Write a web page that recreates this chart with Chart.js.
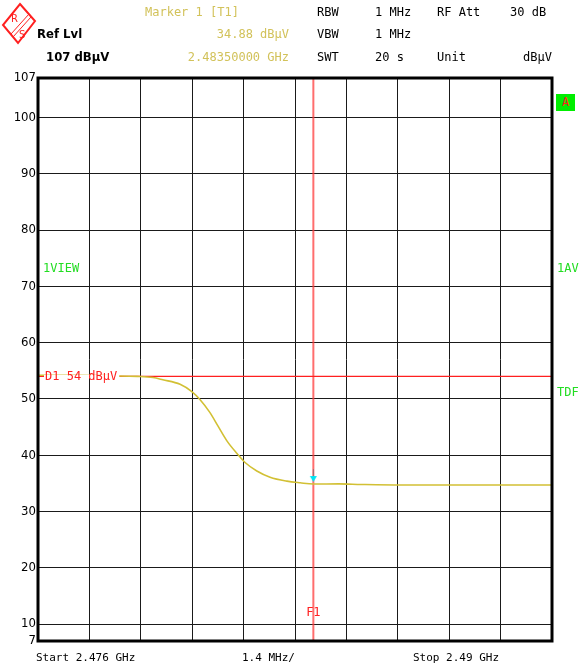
<!DOCTYPE html>
<html>
<head>
<meta charset="utf-8">
<script src="https://cdn.jsdelivr.net/npm/chart.js@4.4.1/dist/chart.umd.min.js"></script>
<style>
  html, body { margin: 0; padding: 0; background: #fff; }
  #wrap { position: relative; width: 579px; height: 670px; overflow: hidden; }
  #wrap canvas { position: absolute; left: 0; top: 0; }
  .t { position: absolute; font-family: "DejaVu Sans Mono", monospace; font-size: 12px; white-space: pre; line-height: 14px; }
  .k { color: #000; }
  .y { color: #d2c25a; }
  .g { color: #22dd22; }
  .b { font-weight: bold; font-family: "DejaVu Sans Condensed", "DejaVu Sans", sans-serif; font-size: 13px; }
  .r { text-align: right; }
  #abox { position: absolute; left: 556px; top: 94px; width: 19px; height: 17px; background: #00ee00; color: #ff2020; font-family: "DejaVu Sans Mono", monospace; font-size: 12px; text-align: center; line-height: 17px; }
</style>
</head>
<body>
<div id="wrap">
  <canvas id="analyzerChart" width="579" height="670"></canvas>

  <svg style="position:absolute;left:0;top:0" width="40" height="48">
    <polygon points="20,4 35,21 18,43 3,25" fill="none" stroke="#ff2020" stroke-width="2"/>
    <line x1="29" y1="14" x2="11" y2="34" stroke="#ff2020" stroke-width="1"/>
    <line x1="31" y1="17" x2="13" y2="37" stroke="#ff2020" stroke-width="1"/>
    <text x="11" y="22" font-size="10" fill="#ff2020" font-family="DejaVu Sans">R</text>
    <text x="19" y="38" font-size="10" fill="#ff2020" font-family="DejaVu Sans">S</text>
  </svg>

  <div class="t y" style="left:145px;top:5px">Marker 1 [T1]</div>
  <div class="t k b" style="left:37px;top:27px">Ref Lvl</div>
  <div class="t y r" style="left:150px;top:27px;width:139px">34.88 dBµV</div>
  <div class="t k b" style="left:46px;top:50px">107 dBµV</div>
  <div class="t y r" style="left:150px;top:50px;width:139px">2.48350000 GHz</div>

  <div class="t k" style="left:317px;top:5px">RBW</div>
  <div class="t k" style="left:375px;top:5px">1 MHz</div>
  <div class="t k" style="left:437px;top:5px">RF Att</div>
  <div class="t k" style="left:510px;top:5px">30 dB</div>
  <div class="t k" style="left:317px;top:27px">VBW</div>
  <div class="t k" style="left:375px;top:27px">1 MHz</div>
  <div class="t k" style="left:317px;top:50px">SWT</div>
  <div class="t k" style="left:375px;top:50px">20 s</div>
  <div class="t k" style="left:437px;top:50px">Unit</div>
  <div class="t k r" style="left:480px;top:50px;width:72px">dBµV</div>

  <div id="abox">A</div>
  <div class="t g" style="left:43px;top:261px">1VIEW</div>
  <div class="t g" style="left:557px;top:261px">1AV</div>
  <div class="t g" style="left:557px;top:385px">TDF</div>

  <div class="t k" style="left:36px;top:651px;font-size:11px">Start 2.476 GHz</div>
  <div class="t k" style="left:242px;top:651px;font-size:11px">1.4 MHz/</div>
  <div class="t k" style="left:413px;top:651px;font-size:11px">Stop 2.49 GHz</div>
</div>

<script>
// Sweep 2.476 - 2.49 GHz, frequency in MHz
const freqMHz = [2476.0, 2477.0, 2478.0, 2478.7, 2479.13, 2479.4, 2479.87, 2480.19, 2480.41, 2480.68,
                 2480.9, 2481.15, 2481.42, 2481.64, 2481.96, 2482.32, 2482.78, 2483.14, 2483.5, 2484.2,
                 2484.8, 2485.9, 2487.2, 2488.6, 2490.0];
const levelDbuv = [54.2, 54.2, 54.1, 54.0, 53.8, 53.4, 52.6, 51.3, 49.9, 47.6,
                   45.2, 42.5, 40.3, 38.7, 37.2, 36.1, 35.4, 35.1, 34.88, 34.9,
                   34.8, 34.7, 34.7, 34.7, 34.7];

// Axis grid
const xTicks = [2476, 2477.4, 2478.8, 2480.2, 2481.6, 2483.0, 2484.4, 2485.8, 2487.2, 2488.6, 2490];
const yTicks = [7, 10, 20, 30, 40, 50, 60, 70, 80, 90, 100, 107];

// Display line D1 and frequency line F1 / marker
const d1Level = 54;
const f1Freq = 2483.5;
const markerFreq = 2483.5;
const markerLevel = 34.88;

// marker symbol: small cyan triangle with a stem, sitting above the point
function markerSymbol() {
    const c = document.createElement('canvas');
    c.width = 9;
    c.height = 34;
    const g = c.getContext('2d');
    g.strokeStyle = 'rgba(80, 110, 120, 0.6)';
    g.lineWidth = 1;
    g.beginPath();
    g.moveTo(4.5, 2);
    g.lineTo(4.5, 9);
    g.stroke();
    g.fillStyle = '#00e5f5';
    g.beginPath();
    g.moveTo(1, 9);
    g.lineTo(8, 9);
    g.lineTo(4.5, 15);
    g.closePath();
    g.fill();
    return c;
}

// frame + red labels
const framePlugin = {
    id: 'frame',
    afterDatasetsDraw(chart) {
        const ctx = chart.ctx;
        const a = chart.chartArea;
        const x = chart.scales.x;
        const y = chart.scales.y;
        ctx.save();

        // D1 label, the line is broken by the text
        const yd = y.getPixelForValue(d1Level);
        ctx.font = '12px "DejaVu Sans Mono", monospace';
        ctx.textBaseline = 'middle';
        const label = 'D1 54 dBµV';
        const w = ctx.measureText(label).width;
        ctx.fillStyle = '#fff';
        ctx.fillRect(a.left + 6, yd - 1.5, w + 3, 3);
        ctx.fillStyle = '#ff2020';
        ctx.fillText(label, a.left + 7, yd);

        // F1 label
        const xf = x.getPixelForValue(f1Freq);
        ctx.textAlign = 'center';
        ctx.fillText('F1', xf, a.bottom - 28);

        // frame
        ctx.strokeStyle = '#000';
        ctx.lineWidth = 3;
        ctx.strokeRect(a.left, a.top, a.right - a.left, a.bottom - a.top);
        ctx.restore();
    }
};

function createChart() {
    const ctx = document.getElementById('analyzerChart').getContext('2d');
    new Chart(ctx, {
        type: 'line',
        data: {
            datasets: [{
                label: 'D1',
                data: [{ x: xTicks[0], y: d1Level }, { x: xTicks[xTicks.length - 1], y: d1Level }],
                borderColor: '#ff2020',
                borderWidth: 1.3,
                pointRadius: 0,
                order: 3
            }, {
                label: 'F1',
                data: [{ x: f1Freq, y: yTicks[0] }, { x: f1Freq, y: yTicks[yTicks.length - 1] }],
                borderColor: 'rgba(255, 60, 60, 0.75)',
                borderWidth: 2,
                pointRadius: 0,
                order: 3
            }, {
                label: 'Trace 1',
                data: freqMHz.map((f, i) => ({ x: f, y: levelDbuv[i] })),
                borderColor: '#d2c034',
                borderWidth: 1.6,
                pointRadius: 0,
                cubicInterpolationMode: 'monotone',
                order: 2
            }, {
                label: 'Marker 1',
                data: [{ x: markerFreq, y: markerLevel }],
                showLine: false,
                pointStyle: markerSymbol(),
                pointRadius: 5,
                order: 1
            }]
        },
        options: {
            responsive: false,
            animation: false,
            events: [],
            layout: { padding: { top: 78, right: 27, bottom: 29, left: 0 } },
            plugins: {
                legend: { display: false },
                tooltip: { enabled: false },
                title: { display: false }
            },
            scales: {
                x: {
                    type: 'linear',
                    min: xTicks[0],
                    max: xTicks[xTicks.length - 1],
                    afterBuildTicks: scale => { scale.ticks = xTicks.map(v => ({ value: v })); },
                    ticks: { display: false },
                    grid: { color: '#1a1a1a', lineWidth: 1, drawTicks: false },
                    border: { display: false }
                },
                y: {
                    min: yTicks[0],
                    max: yTicks[yTicks.length - 1],
                    afterBuildTicks: scale => { scale.ticks = yTicks.map(v => ({ value: v })); },
                    afterFit: scale => { scale.width = 38; },
                    ticks: {
                        color: '#000',
                        padding: 2,
                        font: { family: '"Liberation Sans Narrow", "DejaVu Sans Condensed", "Liberation Sans"', size: 13 }
                    },
                    grid: { color: '#1a1a1a', lineWidth: 1, drawTicks: false },
                    border: { display: false }
                }
            }
        },
        plugins: [framePlugin]
    });
}

window.onload = createChart;
</script>
</body>
</html>
